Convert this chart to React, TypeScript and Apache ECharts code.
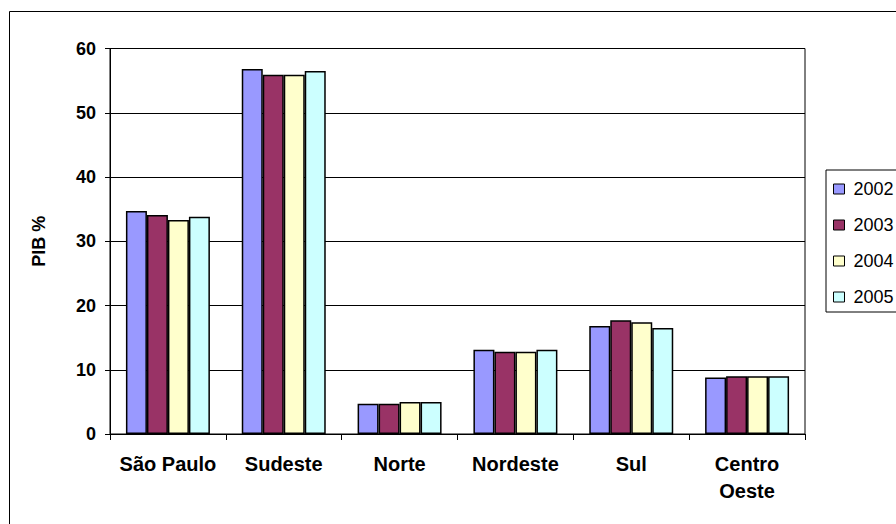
import React, { useEffect, useRef } from "react";
import * as echarts from "echarts";

const categories = ["São Paulo", "Sudeste", "Norte", "Nordeste", "Sul", "Centro\nOeste"];
const years = ["2002", "2003", "2004", "2005"];
const v2002 = [34.7, 56.8, 4.7, 13.1, 16.8, 8.8];
const v2003 = [34.1, 55.9, 4.7, 12.8, 17.7, 9.0];
const v2004 = [33.3, 55.9, 5.0, 12.8, 17.4, 9.0];
const v2005 = [33.8, 56.5, 5.0, 13.1, 16.5, 9.0];
const yTicks = { min: 0, max: 60, interval: 10 };
const colors = ["#9999FF", "#993366", "#FFFFCC", "#CCFFFF"];

const FONT = "Arial, 'Liberation Sans', sans-serif";

export default function App() {
  const ref = useRef<HTMLDivElement>(null);
  useEffect(() => {
    if (!ref.current) return;
    const chart = echarts.init(ref.current, null, { renderer: "svg" });
    const values = [v2002, v2003, v2004, v2005];
    chart.setOption({
      animation: false,
      backgroundColor: "#ffffff",
      textStyle: { fontFamily: FONT, color: "#000" },
      graphic: [
        {
          type: "rect",
          shape: { x: 9.5, y: 11.5, width: 1000, height: 1000 },
          style: { fill: "none", stroke: "#000", lineWidth: 1 },
          silent: true,
        },
      ],
      grid: {
        left: 110,
        top: 48.5,
        right: 91,
        bottom: 90,
        show: true,
        borderColor: "#000",
        borderWidth: 1,
        backgroundColor: "transparent",
      },
      legend: {
        orient: "vertical",
        left: 826,
        top: 170,
        data: years,
        itemWidth: 11,
        itemHeight: 10,
        itemGap: 18,
        padding: [10, 60, 6, 7],
        borderColor: "#000",
        borderWidth: 1,
        icon: "rect",
        itemStyle: { borderColor: "#000", borderWidth: 1 },
        textStyle: {
          fontFamily: FONT,
          fontSize: 18,
          lineHeight: 18,
          color: "#000",
          padding: [0, 0, 0, 4],
        },
      },
      xAxis: {
        type: "category",
        data: categories,
        axisLine: { lineStyle: { color: "#000", width: 1 } },
        axisTick: { show: true, alignWithLabel: false, length: 6, lineStyle: { color: "#000" } },
        axisLabel: {
          fontFamily: FONT,
          fontSize: 20,
          fontWeight: "bold",
          color: "#000",
          lineHeight: 27,
          margin: 16,
          interval: 0,
        },
        splitLine: { show: false },
      },
      yAxis: {
        type: "value",
        min: yTicks.min,
        max: yTicks.max,
        interval: yTicks.interval,
        name: "PIB %",
        nameLocation: "middle",
        nameRotate: 90,
        nameGap: 62,
        nameTextStyle: { fontFamily: FONT, fontSize: 18, fontWeight: "bold", color: "#000" },
        axisLine: { show: true, lineStyle: { color: "#000", width: 1 } },
        axisTick: { show: true, length: 5, lineStyle: { color: "#000" } },
        axisLabel: {
          fontFamily: FONT,
          fontSize: 18,
          fontWeight: "bold",
          color: "#000",
          margin: 14,
        },
        splitLine: { show: true, lineStyle: { color: "#000", width: 1 } },
      },
      series: years.map((y, i) => ({
        name: y,
        type: "bar",
        data: values[i],
        barGap: "0%",
        barCategoryGap: "27.5%",
        itemStyle: { color: colors[i], borderColor: "#000", borderWidth: 1.5 },
      })),
    });
    return () => chart.dispose();
  }, []);
  return (
    <div
      ref={ref}
      style={{ position: "absolute", left: 0, top: 0, width: 896, height: 524 }}
    />
  );
}
